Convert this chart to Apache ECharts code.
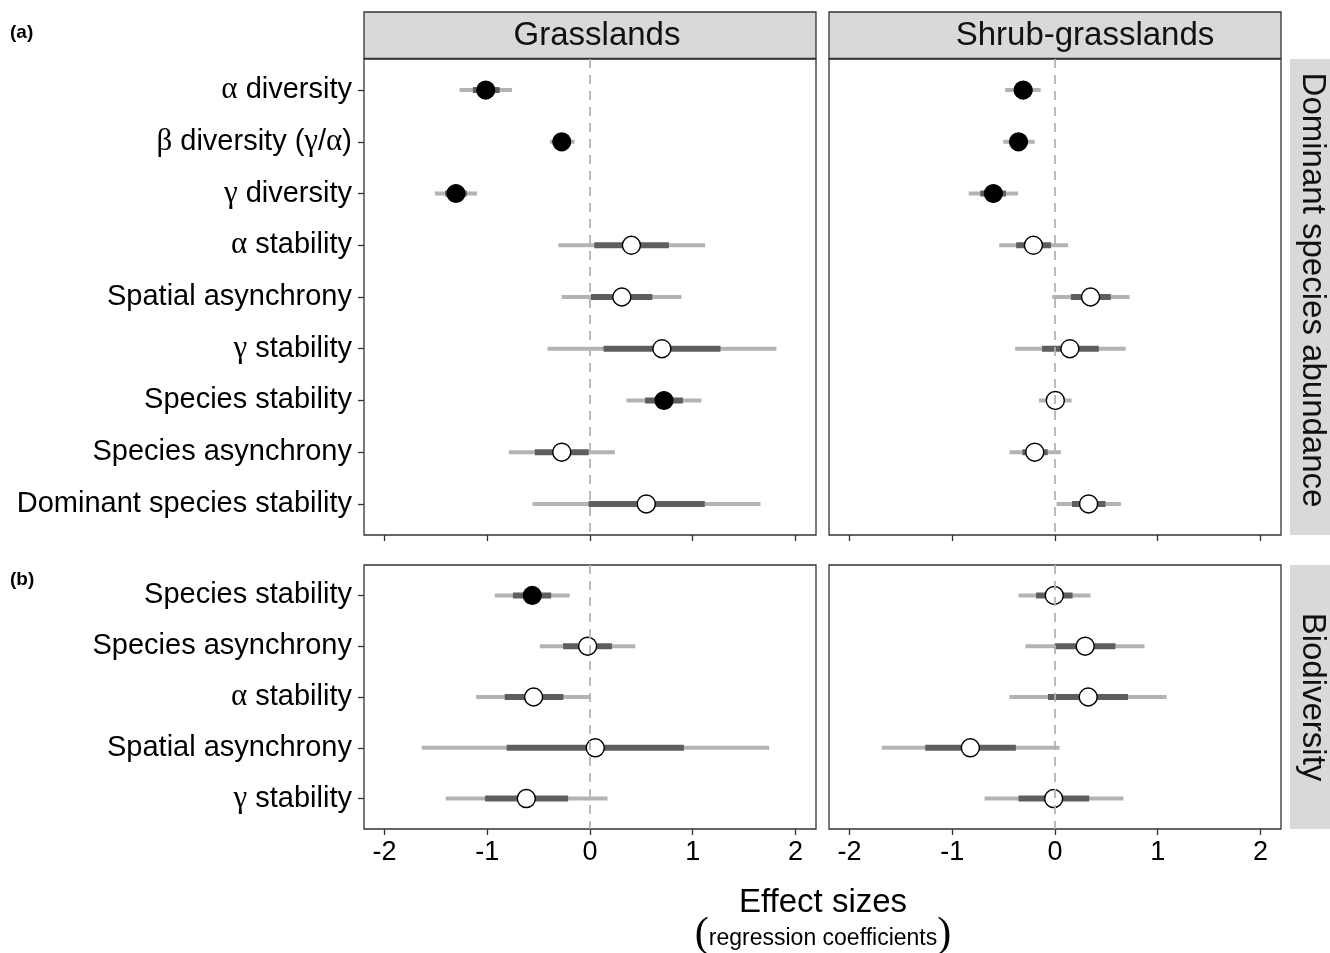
<!DOCTYPE html>
<html>
<head>
<meta charset="utf-8">
<script src="https://cdn.jsdelivr.net/npm/echarts@6/dist/echarts.min.js"></script>
<style>
  html, body { margin: 0; padding: 0; background: #fff; }
  #main { width: 1330px; height: 953px; }
</style>
</head>
<body>
<div id="main"></div>
<script>
// rows, top to bottom
var dominantCats = ['α diversity', 'β diversity (γ/α)', 'γ diversity', 'α stability', 'Spatial asynchrony',
  'γ stability', 'Species stability', 'Species asynchrony', 'Dominant species stability'];
var biodivCats = ['Species stability', 'Species asynchrony', 'α stability', 'Spatial asynchrony', 'γ stability'];
var xTicks = [-2, -1, 0, 1, 2];

// grasslands, dominant species abundance
var grassDomEst = [-1.015, -0.275, -1.305, 0.403, 0.31, 0.70, 0.72, -0.275, 0.548];
var grassDomLo95 = [-1.27, -0.39, -1.51, -0.307, -0.275, -0.414, 0.355, -0.789, -0.559];
var grassDomHi95 = [-0.76, -0.15, -1.10, 1.12, 0.89, 1.815, 1.085, 0.242, 1.66];
var grassDomLo50 = [-1.14, -0.34, -1.41, 0.042, 0.01, 0.132, 0.536, -0.537, -0.013];
var grassDomHi50 = [-0.88, -0.20, -1.20, 0.768, 0.607, 1.27, 0.904, -0.013, 1.117];
var grassDomSig = [1, 1, 1, 0, 0, 0, 1, 0, 0];

// shrub-grasslands, dominant species abundance
var shrubDomEst = [-0.31, -0.355, -0.60, -0.21, 0.346, 0.145, 0.003, -0.197, 0.327];
var shrubDomLo95 = [-0.485, -0.504, -0.84, -0.543, -0.026, -0.388, -0.155, -0.443, 0.016];
var shrubDomHi95 = [-0.14, -0.197, -0.36, 0.129, 0.727, 0.688, 0.162, 0.058, 0.643];
var shrubDomLo50 = [-0.40, -0.43, -0.727, -0.378, 0.155, -0.126, -0.08, -0.317, 0.165];
var shrubDomHi50 = [-0.22, -0.28, -0.478, -0.039, 0.543, 0.426, 0.08, -0.071, 0.491];
var shrubDomSig = [1, 1, 1, 0, 0, 0, 0, 0, 0];

// grasslands, biodiversity
var grassBioEst = [-0.562, -0.023, -0.549, 0.051, -0.62];
var grassBioLo95 = [-0.927, -0.488, -1.108, -1.638, -1.405];
var grassBioHi95 = [-0.198, 0.442, 0.01, 1.744, 0.171];
var grassBioLo50 = [-0.75, -0.262, -0.83, -0.811, -1.021];
var grassBioHi50 = [-0.378, 0.213, -0.259, 0.914, -0.213];
var grassBioSig = [1, 0, 0, 0, 0];

// shrub-grasslands, biodiversity
var shrubBioEst = [-0.007, 0.294, 0.323, -0.824, -0.013];
var shrubBioLo95 = [-0.355, -0.288, -0.443, -1.686, -0.685];
var shrubBioHi95 = [0.346, 0.872, 1.085, 0.045, 0.666];
var shrubBioLo50 = [-0.184, -0.003, -0.068, -1.263, -0.355];
var shrubBioHi50 = [0.171, 0.588, 0.71, -0.381, 0.333];
var shrubBioSig = [0, 0, 0, 0, 0];

var FONT = 'Liberation Sans, Arial, sans-serif';
var SERIF = 'Liberation Serif, DejaVu Serif, serif';
var chart = echarts.init(document.getElementById('main'));

// greek letters in serif like the plotmath labels
function greek(s) {
  return s.replace(/([αβγ])/g, '{g|$1}');
}

var grids = [
  { left: 364, top: 59, width: 452, height: 476 },
  { left: 829, top: 59, width: 452, height: 476 },
  { left: 364, top: 565, width: 452, height: 264 },
  { left: 829, top: 565, width: 452, height: 264 }
];
grids.forEach(function (g) {
  g.show = true;
  g.borderColor = '#333';
  g.borderWidth = 1.3;
  g.backgroundColor = '#fff';
});

var panels = [
  { cats: dominantCats, est: grassDomEst, lo95: grassDomLo95, hi95: grassDomHi95, lo50: grassDomLo50, hi50: grassDomHi50, sig: grassDomSig, ylab: true, xlab: false },
  { cats: dominantCats, est: shrubDomEst, lo95: shrubDomLo95, hi95: shrubDomHi95, lo50: shrubDomLo50, hi50: shrubDomHi50, sig: shrubDomSig, ylab: false, xlab: false },
  { cats: biodivCats, est: grassBioEst, lo95: grassBioLo95, hi95: grassBioHi95, lo50: grassBioLo50, hi50: grassBioHi50, sig: grassBioSig, ylab: true, xlab: true },
  { cats: biodivCats, est: shrubBioEst, lo95: shrubBioLo95, hi95: shrubBioHi95, lo50: shrubBioLo50, hi50: shrubBioHi50, sig: shrubBioSig, ylab: false, xlab: true }
];

var xAxes = [], yAxes = [], series = [];

function segRender(color, width) {
  return function (params, api) {
    var a = api.coord([api.value(0), api.value(2)]);
    var b = api.coord([api.value(1), api.value(2)]);
    return {
      type: 'line',
      shape: { x1: a[0], y1: a[1], x2: b[0], y2: b[1] },
      style: { stroke: color, lineWidth: width, lineCap: 'butt' }
    };
  };
}

panels.forEach(function (p, i) {
  var idx = p.cats.map(function (c, k) { return k; });
  xAxes.push({
    type: 'value', gridIndex: i, min: -2.2, max: 2.2, position: 'bottom',
    splitLine: { show: false },
    axisLine: { show: false, onZero: false },
    axisTick: { show: true, inside: false, customValues: xTicks, length: 6, lineStyle: { color: '#333', width: 1.3 } },
    axisLabel: { show: p.xlab, customValues: xTicks, margin: 10, fontSize: 27, color: '#000', fontFamily: FONT }
  });
  yAxes.push({
    type: 'value', gridIndex: i, inverse: true, min: -0.6, max: p.cats.length - 1 + 0.6, position: 'left',
    splitLine: { show: false },
    axisLine: { show: false, onZero: false },
    axisTick: { show: p.ylab, inside: false, customValues: idx, length: 6, lineStyle: { color: '#333', width: 1.3 } },
    axisLabel: {
      show: p.ylab, customValues: idx, margin: 12, fontSize: 29, color: '#000', fontFamily: FONT,
      formatter: function (v) { return greek(p.cats[Math.round(v)]); },
      rich: { g: { fontFamily: SERIF, fontSize: 31, color: '#000' } }
    }
  });

  series.push({
    type: 'custom', xAxisIndex: i, yAxisIndex: i, z: 2,
    renderItem: segRender('#b3b3b3', 4),
    encode: { x: [0, 1], y: 2 },
    data: idx.map(function (k) { return [p.lo95[k], p.hi95[k], k]; }),
    markLine: {
      silent: true, symbol: 'none', label: { show: false },
      lineStyle: { color: '#b3b3b3', type: [9, 7], width: 1.8 },
      data: [{ xAxis: 0 }]
    }
  });
  series.push({
    type: 'custom', xAxisIndex: i, yAxisIndex: i, z: 3,
    renderItem: segRender('#5e5e5e', 6),
    encode: { x: [0, 1], y: 2 },
    data: idx.map(function (k) { return [p.lo50[k], p.hi50[k], k]; })
  });
  series.push({
    type: 'scatter', xAxisIndex: i, yAxisIndex: i, z: 4,
    symbol: 'circle', symbolSize: 18,
    data: idx.map(function (k) {
      return {
        value: [p.est[k], k],
        itemStyle: p.sig[k]
          ? { color: '#000', borderColor: '#000', borderWidth: 1.2, opacity: 1 }
          : { color: '#fff', borderColor: '#000', borderWidth: 1.4, opacity: 1 }
      };
    })
  });
});

var stripFill = '#d9d9d9';
var graphic = [
  // top strips
  { type: 'rect', shape: { x: 364, y: 12, width: 452, height: 46.5 }, style: { fill: stripFill, stroke: '#333', lineWidth: 1.3 } },
  { type: 'text', x: 597, y: 36, style: { text: 'Grasslands', fontSize: 33, fontFamily: FONT, fill: '#111', align: 'center', verticalAlign: 'middle' } },
  { type: 'rect', shape: { x: 829, y: 12, width: 452, height: 46.5 }, style: { fill: stripFill, stroke: '#333', lineWidth: 1.3 } },
  { type: 'text', x: 1085, y: 36, style: { text: 'Shrub-grasslands', fontSize: 33, fontFamily: FONT, fill: '#111', align: 'center', verticalAlign: 'middle' } },
  // right strips
  { type: 'rect', shape: { x: 1290, y: 59, width: 45, height: 476 }, style: { fill: stripFill } },
  { type: 'text', x: 1312, y: 290, rotation: -Math.PI / 2, style: { text: 'Dominant species abundance', fontSize: 33, fontFamily: FONT, fill: '#111', align: 'center', verticalAlign: 'middle' } },
  { type: 'rect', shape: { x: 1290, y: 565, width: 45, height: 264 }, style: { fill: stripFill } },
  { type: 'text', x: 1312, y: 697, rotation: -Math.PI / 2, style: { text: 'Biodiversity', fontSize: 33, fontFamily: FONT, fill: '#111', align: 'center', verticalAlign: 'middle' } },
  // panel tags
  { type: 'text', x: 10, y: 33, style: { text: '(a)', fontSize: 19, fontWeight: 'bold', fontFamily: FONT, fill: '#000', verticalAlign: 'middle' } },
  { type: 'text', x: 10, y: 580, style: { text: '(b)', fontSize: 19, fontWeight: 'bold', fontFamily: FONT, fill: '#000', verticalAlign: 'middle' } },
  // axis title
  { type: 'text', x: 823, y: 903, style: { text: 'Effect sizes', fontSize: 33, fontFamily: FONT, fill: '#000', align: 'center', verticalAlign: 'middle' } },
  { type: 'text', x: 823, y: 935, style: {
      text: '{p|(}{s|regression coefficients}{p|)}', align: 'center', verticalAlign: 'middle',
      rich: {
        p: { fontSize: 42, fontFamily: SERIF, fill: '#000', verticalAlign: 'middle' },
        s: { fontSize: 23, fontFamily: FONT, fill: '#000', verticalAlign: 'middle', padding: [8, 0, 0, 0] }
      }
    } }
];

var option = {
  backgroundColor: '#fff',
  animation: false,
  grid: grids,
  xAxis: xAxes,
  yAxis: yAxes,
  series: series,
  graphic: graphic
};
chart.setOption(option);
</script>
</body>
</html>
